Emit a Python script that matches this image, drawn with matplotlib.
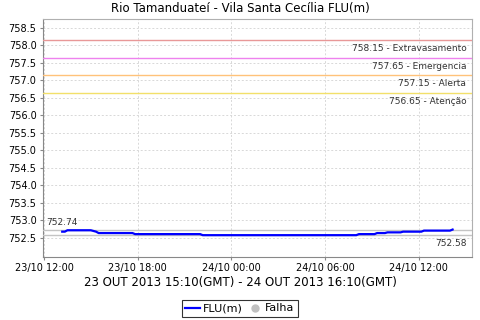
import numpy as np
import matplotlib
matplotlib.use("Agg")
import matplotlib.pyplot as plt
import matplotlib.dates as mdates
from datetime import datetime, timedelta

# level readings, 10 min apart, 23/10/2013 13:10 -> 24/10/2013 14:10 (local)
start = datetime(2013, 10, 23, 13, 10)
levels = [
    752.68, 752.68, 752.72, 752.72, 752.72, 752.72, 752.72, 752.72,
    752.72, 752.72, 752.72, 752.72, 752.70, 752.68, 752.64, 752.64,
    752.64, 752.64, 752.64, 752.64, 752.64, 752.64, 752.64, 752.64,
    752.64, 752.64, 752.64, 752.64, 752.61, 752.61, 752.61, 752.61,
    752.61, 752.61, 752.61, 752.61, 752.61, 752.61, 752.61, 752.61,
    752.61, 752.61, 752.61, 752.61, 752.61, 752.61, 752.61, 752.61,
    752.61, 752.61, 752.61, 752.61, 752.61, 752.61, 752.58, 752.58,
    752.58, 752.58, 752.58, 752.58, 752.58, 752.58, 752.58, 752.58,
    752.58, 752.58, 752.58, 752.58, 752.58, 752.58, 752.58, 752.58,
    752.58, 752.58, 752.58, 752.58, 752.58, 752.58, 752.58, 752.58,
    752.58, 752.58, 752.58, 752.58, 752.58, 752.58, 752.58, 752.58,
    752.58, 752.58, 752.58, 752.58, 752.58, 752.58, 752.58, 752.58,
    752.58, 752.58, 752.58, 752.58, 752.58, 752.58, 752.58, 752.58,
    752.58, 752.58, 752.58, 752.58, 752.58, 752.58, 752.58, 752.58,
    752.58, 752.58, 752.61, 752.61, 752.61, 752.61, 752.61, 752.61,
    752.61, 752.64, 752.64, 752.64, 752.64, 752.66, 752.66, 752.66,
    752.66, 752.66, 752.66, 752.68, 752.68, 752.68, 752.68, 752.68,
    752.68, 752.68, 752.68, 752.71, 752.71, 752.71, 752.71, 752.71,
    752.71, 752.71, 752.71, 752.71, 752.71, 752.71, 752.74,
]
times = [start + timedelta(minutes=10 * i) for i in range(len(levels))]

# alert thresholds
thr_values = [758.15, 757.65, 757.15, 756.65]
thr_names = ["Extravasamento", "Emergencia", "Alerta", "Atenção"]
thr_colors = ["#e89898", "#ee82ee", "#ffc27a", "#f2e06a"]

max_val = max(levels)
min_val = min(levels)

title = "Rio Tamanduateí - Vila Santa Cecília FLU(m)"
xlabel = "23 OUT 2013 15:10(GMT) - 24 OUT 2013 16:10(GMT)"

fig = plt.figure(figsize=(4.8, 3.2), dpi=100)
ax = fig.add_axes([0.0906, 0.1984, 0.8924, 0.7426])

ax.plot(times, levels, color="#0000ff", lw=1.6, label="FLU(m)", zorder=5)
ax.plot([], [], ls="none", marker="o", ms=5, color="#c0c0c0", label="Falha")

for v, n, c in zip(thr_values, thr_names, thr_colors):
    ax.axhline(v, color=c, lw=1, zorder=3)
    ax.annotate(f"{v:.2f} - {n}", xy=(1, v), xycoords=("axes fraction", "data"),
                xytext=(-4, -3), textcoords="offset points",
                ha="right", va="top", fontsize=6.5, color="#333333")

ax.axhline(max_val, color="#c4c4c4", lw=1, zorder=3)
ax.axhline(min_val, color="#c4c4c4", lw=1, zorder=3)
ax.annotate(f"{max_val:.2f}", xy=(0, max_val), xycoords=("axes fraction", "data"),
            xytext=(2, 2), textcoords="offset points",
            ha="left", va="bottom", fontsize=6.5, color="#333333")
ax.annotate(f"{min_val:.2f}", xy=(1, min_val), xycoords=("axes fraction", "data"),
            xytext=(-4, -3), textcoords="offset points",
            ha="right", va="top", fontsize=6.5, color="#333333")

ax.set_ylim(751.97, 758.76)
ax.set_yticks(np.arange(752.5, 758.6, 0.5))
ax.yaxis.set_major_formatter(matplotlib.ticker.FormatStrFormatter("%.1f"))
ax.set_xlim(datetime(2013, 10, 23, 11, 58), datetime(2013, 10, 24, 15, 24))
ax.xaxis.set_major_locator(mdates.HourLocator(byhour=[0, 6, 12, 18]))
ax.xaxis.set_major_formatter(mdates.DateFormatter("%d/%m %H:%M"))

ax.grid(True, color="#d8d8d8", ls=(0, (2, 2)), lw=0.7)
ax.tick_params(labelsize=7, length=2, color="#888888", pad=3)
for s in ["top", "right"]:
    ax.spines[s].set_color("#b0b0b0")
for s in ["left", "bottom"]:
    ax.spines[s].set_color("#888888")

fig.text(0.5, 0.972, title, ha="center", va="center", fontsize=8.5)
fig.text(0.5, 0.118, xlabel, ha="center", va="center", fontsize=8.5)

leg = fig.legend(loc="center", bbox_to_anchor=(0.5, 0.036), ncol=2, fontsize=8,
                 frameon=True, fancybox=False, edgecolor="black",
                 handlelength=1.3, handletextpad=0.3, columnspacing=0.4,
                 borderpad=0.3)
leg.get_frame().set_linewidth(0.8)

fig.savefig("out.png", dpi=100)
